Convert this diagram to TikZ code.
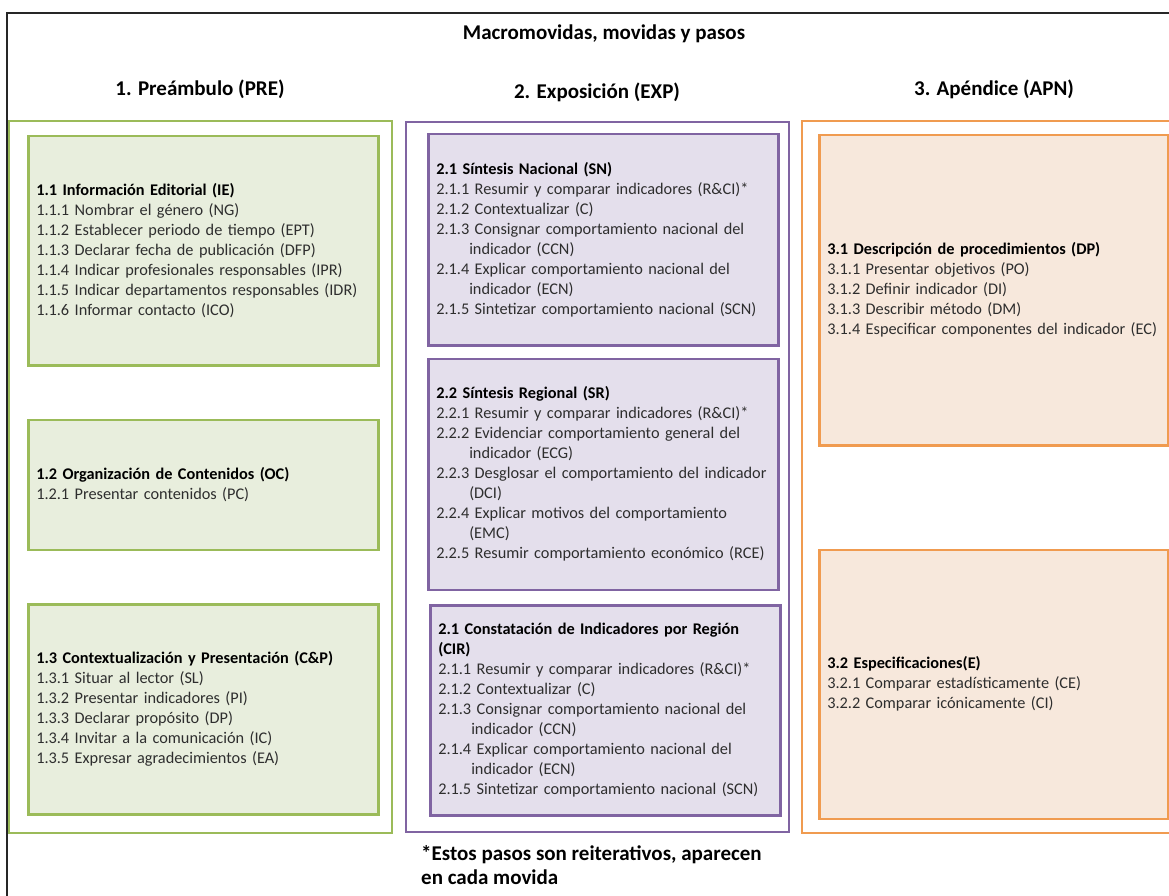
\documentclass[tikz,border=0pt]{standalone}
\usepackage{fontspec}
\setmainfont{Carlito}
\usetikzlibrary{positioning}

\definecolor{verdeBorde}{RGB}{155,187,89}
\definecolor{verdeFondo}{RGB}{232,238,221}
\definecolor{moradoBorde}{RGB}{128,100,162}
\definecolor{moradoFondo}{RGB}{228,223,236}
\definecolor{naranjaBorde}{RGB}{240,155,80}
\definecolor{naranjaFondo}{RGB}{247,232,220}

\newcommand{\movida}[1]{{\color{black}\bfseries #1}}
\newcommand{\sangria}{\hspace*{33pt}}

\begin{document}
\begin{tikzpicture}[x=1pt, y=-1pt,
    marco/.style={draw, line width=2pt, fill=white},
    caja/.style={draw, line width=2.5pt, anchor=north west, inner xsep=8pt, inner ysep=0pt,
                 align=left, text=black!82, font=\fontsize{16.3}{20}\selectfont},
    verde/.style={caja, draw=verdeBorde, fill=verdeFondo, text width=334pt},
    morado/.style={caja, draw=moradoBorde, fill=moradoFondo, text width=334pt},
    naranja/.style={caja, draw=naranjaBorde, fill=naranjaFondo, text width=333pt},
    titulo/.style={font=\bfseries\fontsize{21}{24}\selectfont},
    node distance = 52pt]
          \useasboundingbox (0,0) rectangle (1169,896);
          \clip (0,0) rectangle (1169,896);
          % marco general
          \draw[line width=2pt, black!85] (7,13) rectangle (1190,920);
          \node[font=\bfseries\fontsize{21}{24}\selectfont] (tit) at (604,34) {Macromovidas, movidas y pasos};
          \node[titulo] (tpre) at (200,89) {1. Preámbulo (PRE)};
          \node[titulo] (texp) at (597,92) {2. Exposición (EXP)};
          \node[titulo] (tapn) at (994,89) {3. Apéndice (APN)};
          % macromovidas
          \draw[marco, draw=verdeBorde]   (9,121)   rectangle (392,833);
          \draw[marco, draw=moradoBorde]  (406,122) rectangle (789,832);
          \draw[marco, draw=naranjaBorde] (802,121) rectangle (1190,833);
          % 1. Preambulo
          \node[verde, minimum height=229pt] (ie) at (27,135) {\movida{1.1 Información Editorial (IE)}\\
            1.1.1 Nombrar el género (NG)\\
            1.1.2 Establecer periodo de tiempo (EPT)\\
            1.1.3 Declarar fecha de publicación (DFP)\\
            1.1.4 Indicar profesionales responsables (IPR)\\
            1.1.5 Indicar departamentos responsables (IDR)\\
            1.1.6 Informar contacto (ICO)};
          \node[verde, minimum height=130pt, below=of ie.south west, anchor=north west] (oc) {\movida{1.2 Organización de Contenidos (OC)}\\
            1.2.1 Presentar contenidos (PC)};
          \node[verde, minimum height=210pt, below=of oc.south west, anchor=north west] (cp) {\movida{1.3 Contextualización y Presentación (C\&P)}\\
            1.3.1 Situar al lector (SL)\\
            1.3.2 Presentar indicadores (PI)\\
            1.3.3 Declarar propósito (DP)\\
            1.3.4 Invitar a la comunicación (IC)\\
            1.3.5 Expresar agradecimientos (EA)};
          % 2. Exposicion
          \node[morado, minimum height=211pt] (sn) at (427,133) {\movida{2.1 Síntesis Nacional (SN)}\\
            2.1.1 Resumir y comparar indicadores (R\&CI)*\\
            2.1.2 Contextualizar (C)\\
            2.1.3 Consignar comportamiento nacional del\\
            \sangria indicador (CCN)\\
            2.1.4 Explicar comportamiento nacional del\\
            \sangria indicador (ECN)\\
            2.1.5 Sintetizar comportamiento nacional (SCN)};
          \node[morado, minimum height=231pt, below=11pt of sn.south west, anchor=north west] (sr) {\movida{2.2 Síntesis Regional (SR)}\\
            2.2.1 Resumir y comparar indicadores (R\&CI)*\\
            2.2.2 Evidenciar comportamiento general del\\
            \sangria indicador (ECG)\\
            2.2.3 Desglosar el comportamiento del indicador\\
            \sangria (DCI)\\
            2.2.4 Explicar motivos del comportamiento\\
            \sangria (EMC)\\
            2.2.5 Resumir comportamiento económico (RCE)};
          \node[morado, minimum height=210pt] (cir) at (429,604) {\movida{2.1 Constatación de Indicadores por Región}\\
            \movida{(CIR)}\\
            2.1.1 Resumir y comparar indicadores (R\&CI)*\\
            2.1.2 Contextualizar (C)\\
            2.1.3 Consignar comportamiento nacional del\\
            \sangria indicador (CCN)\\
            2.1.4 Explicar comportamiento nacional del\\
            \sangria indicador (ECN)\\
            2.1.5 Sintetizar comportamiento nacional (SCN)};
          % 3. Apendice
          \node[naranja, minimum height=310pt] (dp) at (818,134) {\movida{3.1 Descripción de procedimientos (DP)}\\
            3.1.1 Presentar objetivos (PO)\\
            3.1.2 Definir indicador (DI)\\
            3.1.3 Describir método (DM)\\
            3.1.4 Especificar componentes del indicador\ (EC)};
          \node[naranja, minimum height=269pt, below=102pt of dp.south west, anchor=north west] (esp) {\movida{3.2 Especificaciones(E)}\\
            3.2.1 Comparar estadísticamente (CE)\\
            3.2.2 Comparar icónicamente (CI)};
          % nota
          \node[anchor=west, align=left, inner sep=0pt, font=\bfseries\fontsize{21}{24}\selectfont] (nota) at (421,865)
            {*Estos pasos son reiterativos, aparecen\\en cada movida};
        \end{tikzpicture}
\end{document}
